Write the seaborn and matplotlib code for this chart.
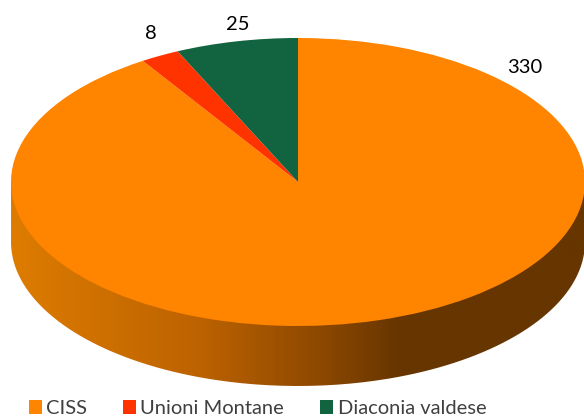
import numpy as np
import matplotlib.pyplot as plt
from matplotlib.colors import LinearSegmentedColormap
from matplotlib.patches import PathPatch
from matplotlib.path import Path
import seaborn as sns

categories = ["CISS", "Unioni Montane", "Diaconia valdese"]
values = [330, 8, 25]
colors = ["#FF8400", "#FF3300", "#12633F"]

sns.set_theme(style="white")
plt.rcParams["font.family"] = ["Lato", "DejaVu Sans"]

fig = plt.figure(figsize=(5.84, 4.17), dpi=100)

# background axes in pixels, for the side of the disc and the labels
bg = fig.add_axes([0, 0, 1, 1])
bg.axis("off")

cx, cy, rx, ry, depth = 298, 182, 287, 144, 60

# side wall with the shading gradient
shade = LinearSegmentedColormap.from_list(
    "side",
    [(0, "#DE7C00"), (0.33, "#BC6200"), (0.55, "#8A4700"), (0.68, "#663500"), (1, "#663600")],
)
grad = bg.imshow(np.linspace(0, 1, 400).reshape(1, -1), cmap=shade, aspect="auto",
                 extent=[cx - rx, cx + rx, cy + ry + depth, cy - ry])
t = np.linspace(np.pi, 0, 200)
outline = np.column_stack([cx + rx * np.cos(t), cy + depth + ry * np.sin(t)])
outline = np.vstack([[cx - rx, cy], outline, [cx + rx, cy], [cx - rx, cy]])
clip = PathPatch(Path(outline), transform=bg.transData, facecolor="none", edgecolor="none")
bg.add_patch(clip)
grad.set_clip_path(clip)
bg.set_xlim(0, 584)
bg.set_ylim(417, 0)

# top of the disc: a pie in an axes stretched to the ellipse
ax = fig.add_axes([(cx - rx) / 584, 1 - (cy + ry) / 417, 2 * rx / 584, 2 * ry / 417])
wedges, _ = ax.pie(values, colors=colors, startangle=90, counterclock=False, radius=1,
                   wedgeprops={"linewidth": 0})
ax.set_aspect("auto")
ax.set_xlim(-1, 1)
ax.set_ylim(-1, 1)
for w in wedges:
    w.set_clip_on(False)

# data labels
label_pos = [(525, 67), (151, 33), (238, 24)]
for v, (px, py) in zip(values, label_pos):
    bg.text(px, py, str(v), ha="center", va="center", fontsize=14.5, color="black", zorder=5)

fig.legend(wedges, categories, ncol=3, loc="lower left", bbox_to_anchor=(29 / 584, 0.0),
           frameon=False, fontsize=14.5, labelcolor="#404040", handlelength=0.63,
           handleheight=0.7, handletextpad=0.22, columnspacing=1.8, borderpad=0, borderaxespad=0)

fig.savefig("out.png", dpi=100)
